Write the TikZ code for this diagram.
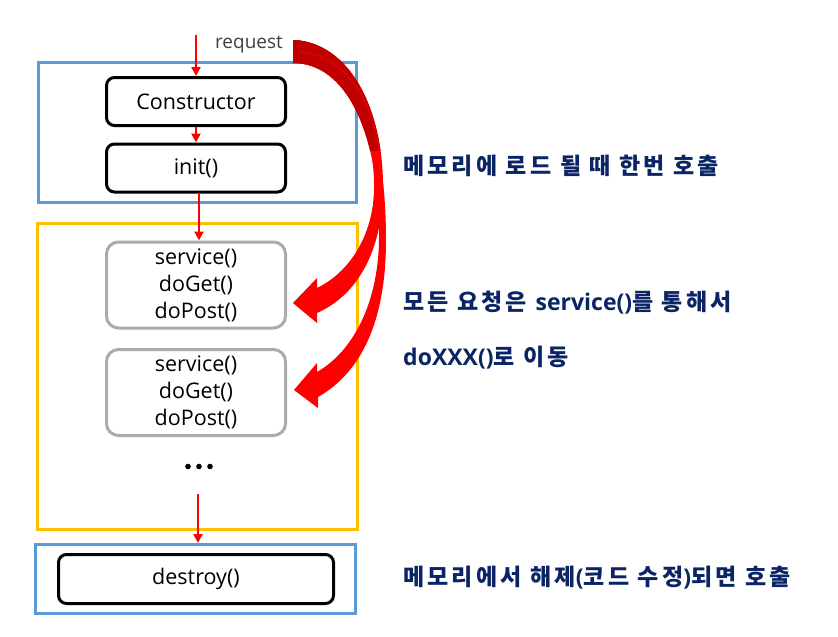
\documentclass[tikz,border=0pt]{standalone}
\usepackage{fontspec}
\setmainfont{Open Sans}
\newfontfamily\kr{Noto Sans CJK KR}[LetterSpace=14]
\newcommand{\lat}[1]{{\rmfamily\bfseries #1}}
\usetikzlibrary{arrows.meta}
\definecolor{frblue}{HTML}{5B9BD5}
\definecolor{fryel}{HTML}{FFC000}
\definecolor{boxgrey}{HTML}{ABABAB}
\definecolor{navy}{HTML}{0A2464}
\definecolor{darkred}{HTML}{C00000}
\definecolor{reqgrey}{HTML}{404040}
\tikzset{
 blk/.style={draw=black, line width=3pt, rounded corners=8pt, minimum width=179pt, minimum height=48pt, inner sep=0pt, font=\fontsize{21.5}{26}\selectfont},
 gry/.style={draw=boxgrey, line width=3pt, rounded corners=12pt, minimum width=179pt, minimum height=86pt, inner sep=0pt, align=center, font=\fontsize{21.5}{27}\selectfont},
 frameblue/.style={draw=frblue, line width=3pt, inner sep=0pt},
 frameyel/.style={draw=fryel, line width=3pt, inner sep=0pt},
 rarr/.style={draw=red, line width=2.5pt, -{Triangle[length=9pt,width=9pt]}},
 note/.style={anchor=west, text=navy, font=\kr\bfseries\fontsize{23}{27}\selectfont, inner sep=0pt}
}
\def\arrowA{(293,40) .. controls (350,42) and (384,110) .. (383,190) .. controls (382,250) and (358,295) .. (317,313) -- (317,323) -- (293,303) -- (317,278) -- (317,288) .. controls (350,272) and (373,235) .. (374,190) .. controls (375,120) and (345,63) .. (293,63) -- cycle}
\def\arrowB{(293,40) .. controls (352,42) and (386,120) .. (386,240) .. controls (386,320) and (362,372) .. (318,397) -- (318,408) -- (294,390) -- (317,363) -- (317,372) .. controls (352,352) and (378,305) .. (379,240) .. controls (380,130) and (345,63) .. (293,63) -- cycle}
\begin{document}
\begin{tikzpicture}[x=1pt,y=-1pt]
\useasboundingbox[fill=white] (0,0) rectangle (838,637);
% frames
\node[frameblue, minimum width=318pt, minimum height=140pt] (f1) at (197.5,132.5) {};
\node[frameyel, minimum width=320pt, minimum height=306pt] (f2) at (197.5,376.5) {};
\node[frameblue, minimum width=320pt, minimum height=69pt] (f3) at (195.5,579) {};
% boxes
\node[blk] (c) at (196,101.5) {Constructor};
\node[blk] (i) at (196,168) {init()};
\node[gry] (s1) at (196,285) {service()\\doGet()\\doPost()};
\node[gry] (s2) at (196,392.5) {service()\\doGet()\\doPost()};
\node[blk, minimum width=275pt, minimum height=49pt] (d) at (196,579) {destroy()};
\node[text=reqgrey, font=\fontsize{19}{22}\selectfont, inner sep=0pt] (req) at (249,45) {request};
% dots
\foreach \dx [count=\k] in {188,199,210} \fill (\dx,466.5) circle (2.8pt) coordinate (dot\k);
% small arrows
\coordinate (r0) at (196,35);
\draw[rarr] (r0) -- (c.north);
\draw[rarr] (c.south) -- (i.north);
\draw[rarr] ([xshift=3pt]i.south) -- ([xshift=3pt]s1.north);
\coordinate (d0) at (198,494);
\draw[rarr] (d0) -- (d0 |- f3.north);
% big curved arrows
\fill[red] \arrowB;
\fill[red] \arrowA;
\begin{scope}
\clip (280,30) rectangle (400,150);
\fill[darkred] \arrowB;
\fill[darkred] \arrowA;
\draw[red!85!darkred, line width=0.8pt] (300,52) .. controls (348,55) and (376,110) .. (379,150);
\end{scope}
% notes
\node[note] (n1) at (403,166) {메모리에 로드 될 때 한번 호출};
\node[note] (n2) at (403,303) {모든 요청은 \lat{service()}를 통해서};
\node[note] (n3) at (403,358) {\lat{doXXX()}로 이동};
\node[note] (n4) at (403,578) {메모리에서 해제\lat{(}코드 수정\lat{)}되면 호출};
\end{tikzpicture}
\end{document}
